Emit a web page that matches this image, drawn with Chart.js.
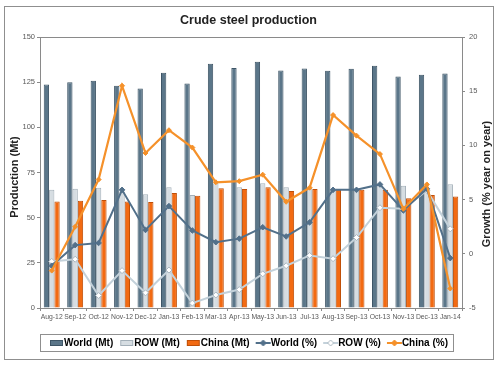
<!DOCTYPE html>
<html>
<head>
<meta charset="utf-8">
<title>Crude steel production</title>
<script src="https://cdn.jsdelivr.net/npm/chart.js@4/dist/chart.umd.min.js"></script>
<style>
  html, body { margin: 0; padding: 0; background: #ffffff; }
  #wrap { width: 497px; height: 365px; position: relative; }
</style>
</head>
<body>
<div id="wrap"><canvas id="graph"></canvas></div>
<script>
// -------------------------
// DATA
// -------------------------
const months = ["Aug-12", "Sep-12", "Oct-12", "Nov-12", "Dec-12", "Jan-13", "Feb-13", "Mar-13", "Apr-13",
  "May-13", "Jun-13", "Jul-13", "Aug-13", "Sep-13", "Oct-13", "Nov-13", "Dec-13", "Jan-14"];

const worldMt = [123.7, 125.0, 125.8, 123.0, 121.5, 130.2, 124.3, 135.2, 132.8,
  136.3, 131.5, 132.6, 131.3, 132.4, 134.1, 128.2, 129.1, 129.8];
const rowMt = [65.4, 66.0, 66.5, 64.3, 63.0, 66.9, 62.6, 69.1, 66.9,
  69.1, 66.9, 66.7, 65.8, 65.4, 69.1, 67.6, 66.0, 68.5];
const chinaMt = [58.9, 59.3, 59.8, 58.9, 58.7, 63.7, 62.1, 66.3, 65.8,
  66.9, 64.8, 65.8, 65.8, 65.4, 65.4, 60.8, 62.6, 61.7];

const worldPct = [-1.1, 0.8, 1.0, 5.9, 2.2, 4.4, 2.15, 1.07, 1.4,
  2.45, 1.6, 2.9, 5.9, 5.9, 6.4, 4.0, 6.0, -0.4];
const rowPct = [-0.7, -0.5, -3.85, -1.55, -3.6, -1.5, -4.55, -3.8, -3.3,
  -1.85, -1.1, -0.15, -0.45, 1.5, 4.25, 4.15, 5.85, 2.3];
const chinaPct = [-1.55, 2.5, 6.85, 15.5, 9.3, 11.4, 9.8, 6.6, 6.7,
  7.3, 4.8, 6.1, 12.8, 10.9, 9.2, 4.15, 6.4, -3.2];

const mtTicks = { min: 0, max: 150, step: 25 };
const pctTicks = { min: -5, max: 20, step: 5 };

// -------------------------
// COLOURS
// -------------------------
const FONT = "Arial, 'Liberation Sans', sans-serif";
const worldFill = "#5b7689", worldEdge = "#3e5566";
const rowFill = "#d6dde2", rowEdge = "#a3afb8";
const chinaFill = "#f26a12", chinaEdge = "#bf4f08";
const worldLine = "#52708a", rowLine = "#c3d1da", chinaLine = "#f5912a";

// -------------------------
// LEGEND SWATCHES
// -------------------------
function barSwatch(fill, edge) {
  const c = document.createElement("canvas");
  c.width = 24; c.height = 8;
  const g = c.getContext("2d");
  g.fillStyle = fill;
  g.fillRect(8, 1, 13, 6);
  g.strokeStyle = edge;
  g.lineWidth = 1;
  g.strokeRect(8.5, 1.5, 12, 5);
  return c;
}

function lineSwatch(color, markFill, markEdge) {
  const c = document.createElement("canvas");
  c.width = 24; c.height = 8;
  const g = c.getContext("2d");
  g.strokeStyle = color;
  g.lineWidth = 2;
  g.beginPath(); g.moveTo(7, 4); g.lineTo(22, 4); g.stroke();
  g.fillStyle = markFill;
  g.strokeStyle = markEdge;
  g.lineWidth = 1;
  g.beginPath();
  g.moveTo(14.5, 1); g.lineTo(17.5, 4); g.lineTo(14.5, 7); g.lineTo(11.5, 4); g.closePath();
  g.fill(); g.stroke();
  return c;
}

const swatches = [
  barSwatch(worldFill, worldEdge),
  barSwatch(rowFill, rowEdge),
  barSwatch(chinaFill, chinaEdge),
  lineSwatch(worldLine, worldLine, worldLine),
  lineSwatch(rowLine, "#ffffff", "#a9b6bf"),
  lineSwatch(chinaLine, chinaLine, chinaLine)
];

// -------------------------
// FRAME, TITLES, LEGEND BOX
// -------------------------
const framePlugin = {
  id: "frame",
  afterDraw(chart) {
    const ctx = chart.ctx;
    const a = chart.chartArea;
    ctx.save();

    // outer border
    ctx.strokeStyle = "#8f8f8f";
    ctx.lineWidth = 1;
    ctx.strokeRect(4.5, 6.5, 489, 353);

    // top line of plot area
    ctx.strokeStyle = "#8a8a8a";
    ctx.beginPath();
    ctx.moveTo(a.left, Math.round(a.top) + 0.5);
    ctx.lineTo(a.right, Math.round(a.top) + 0.5);
    ctx.stroke();

    // axis titles, both reading bottom to top
    ctx.fillStyle = "#222222";
    ctx.font = "bold 11px " + FONT;
    ctx.textAlign = "center";
    ctx.textBaseline = "middle";
    ctx.save();
    ctx.translate(15, 177);
    ctx.rotate(-Math.PI / 2);
    ctx.fillText("Production (Mt)", 0, 0);
    ctx.restore();
    ctx.save();
    ctx.translate(487, 184);
    ctx.rotate(-Math.PI / 2);
    ctx.fillText("Growth (% year on year)", 0, 0);
    ctx.restore();

    // legend box
    const items = chart.legend.legendHitBoxes;
    if (items && items.length) {
      const first = items[0], last = items[items.length - 1];
      const x0 = Math.round(first.left) - 8.5;
      const x1 = Math.round(last.left + last.width) + 5.5;
      const y0 = Math.round(first.top + first.height / 2) - 8.5;
      ctx.strokeStyle = "#8f8f8f";
      ctx.strokeRect(x0, y0, x1 - x0, 17);
    }
    ctx.restore();
  }
};

// -------------------------
// CHART
// -------------------------
function initChart() {
  const ctx = document.getElementById("graph").getContext("2d");

  new Chart(ctx, {
    type: "bar",
    data: {
      labels: months,
      datasets: [
        {
          label: "World (Mt)", data: worldMt, yAxisID: "y", order: 2,
          backgroundColor: worldFill, borderColor: worldEdge, borderWidth: 1,
          categoryPercentage: 0.68, barPercentage: 1.0
        },
        {
          label: "ROW (Mt)", data: rowMt, yAxisID: "y", order: 2,
          backgroundColor: rowFill, borderColor: rowEdge, borderWidth: 1,
          categoryPercentage: 0.68, barPercentage: 1.0
        },
        {
          label: "China (Mt)", data: chinaMt, yAxisID: "y", order: 2,
          backgroundColor: chinaFill, borderColor: chinaEdge, borderWidth: 1,
          categoryPercentage: 0.68, barPercentage: 1.0
        },
        {
          type: "line", label: "World (%)", data: worldPct, yAxisID: "y2", order: 1,
          borderColor: worldLine, borderWidth: 2, tension: 0,
          pointStyle: "rectRot", pointRadius: 2.8,
          pointBackgroundColor: worldLine, pointBorderColor: worldLine, pointBorderWidth: 1
        },
        {
          type: "line", label: "ROW (%)", data: rowPct, yAxisID: "y2", order: 1,
          borderColor: rowLine, borderWidth: 2, tension: 0,
          pointStyle: "rectRot", pointRadius: 3,
          pointBackgroundColor: "#ffffff", pointBorderColor: "#a9b6bf", pointBorderWidth: 1
        },
        {
          type: "line", label: "China (%)", data: chinaPct, yAxisID: "y2", order: 0,
          borderColor: chinaLine, borderWidth: 2.2, tension: 0,
          pointStyle: "rectRot", pointRadius: 2.5,
          pointBackgroundColor: chinaLine, pointBorderColor: chinaLine, pointBorderWidth: 1
        }
      ]
    },
    options: {
      responsive: true,
      maintainAspectRatio: false,
      animation: false,
      events: [],
      layout: { padding: { top: 0, left: 0, right: 0, bottom: 7 } },
      plugins: {
        tooltip: { enabled: false },
        title: {
          display: true,
          text: "Crude steel production",
          color: "#222222",
          font: { family: FONT, size: 12.5, weight: "bold", lineHeight: 1.2 },
          padding: { top: 13.5, bottom: 8.5 }
        },
        legend: {
          position: "bottom",
          labels: {
            usePointStyle: true,
            pointStyleWidth: 10,
            boxHeight: 8,
            padding: 6,
            color: "#262626",
            font: { family: FONT, size: 10, weight: "bold" },
            generateLabels(chart) {
              return chart.data.datasets.map((ds, i) => ({
                text: ds.label,
                pointStyle: swatches[i],
                fillStyle: "transparent",
                strokeStyle: "transparent",
                lineWidth: 0,
                hidden: false,
                datasetIndex: i
              }));
            }
          }
        }
      },
      scales: {
        x: {
          offset: true,
          grid: { display: true, drawOnChartArea: false, drawTicks: true, tickLength: 3, color: "#8a8a8a", offset: true },
          border: { display: true, color: "#8a8a8a" },
          ticks: {
            autoSkip: false, maxRotation: 0, minRotation: 0, padding: 2,
            color: "#595959", font: { family: FONT, size: 6.8 }
          },
          afterFit(scale) {
            const lg = scale.chart.legend;
            const lh = lg && lg.height ? lg.height : 22;
            scale.height = 365 - 308 - 7 - lh;
          }
        },
        y: {
          position: "left",
          min: mtTicks.min, max: mtTicks.max,
          grid: { drawOnChartArea: false, drawTicks: true, tickLength: 3, color: "#8a8a8a" },
          border: { display: true, color: "#8a8a8a" },
          ticks: {
            stepSize: mtTicks.step, padding: 2,
            color: "#595959", font: { family: FONT, size: 7.5 }
          },
          afterFit(scale) { scale.width = 40; }
        },
        y2: {
          position: "right",
          min: pctTicks.min, max: pctTicks.max,
          grid: { drawOnChartArea: false, drawTicks: true, tickLength: 3, color: "#8a8a8a" },
          border: { display: true, color: "#8a8a8a" },
          ticks: {
            stepSize: pctTicks.step, padding: 4,
            color: "#595959", font: { family: FONT, size: 7.5 }
          },
          afterFit(scale) { scale.width = 35; }
        }
      }
    },
    plugins: [framePlugin]
  });
}

// -------------------------
// START
// -------------------------
initChart();
</script>
</body>
</html>
